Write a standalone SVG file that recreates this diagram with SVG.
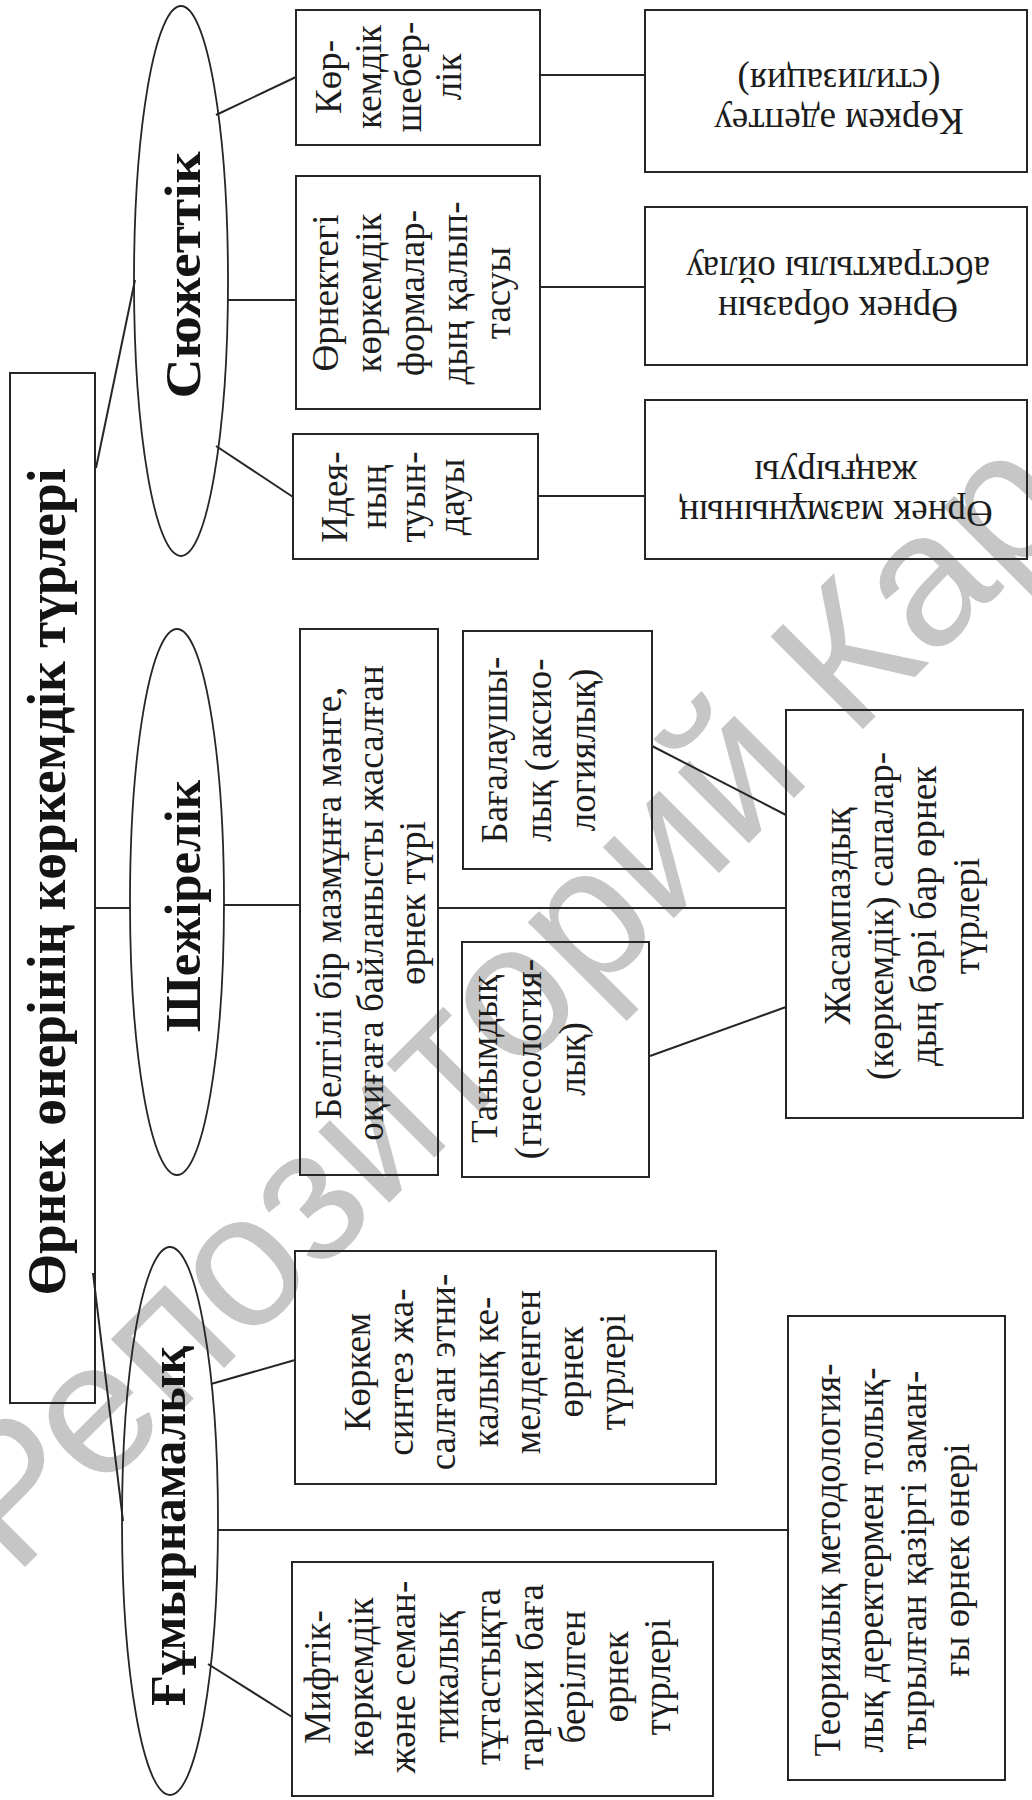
<svg xmlns="http://www.w3.org/2000/svg" width="1032" height="1800" viewBox="0 0 1032 1800">
<style>
.bg{fill:#ffffff}
.box{fill:none;stroke:#262626;stroke-width:2}
.ell{fill:none;stroke:#262626;stroke-width:1.8}
.ln{stroke:#262626;stroke-width:2;fill:none}
.t{font-family:"Liberation Serif","Times New Roman","DejaVu Serif",serif;font-size:37px;fill:#1c1c1c;text-anchor:middle}
.tb{font-family:"Liberation Serif","Times New Roman","DejaVu Serif",serif;font-weight:bold;fill:#141414;text-anchor:middle}
.wm{font-family:"Liberation Sans",Arial,"DejaVu Sans",sans-serif;font-size:190px;fill:#c6c6c6}
</style>
<rect class="bg" x="0" y="0" width="1032" height="1800"/>
<text class="wm" transform="translate(14,1578) rotate(-45)">Репозиторий Кар</text>

<g id="connectors">
<line class="ln" x1="96" y1="468" x2="135" y2="280"/>
<line class="ln" x1="96" y1="908" x2="130" y2="908"/>
<line class="ln" x1="93" y1="1273" x2="123" y2="1521"/>
<line class="ln" x1="216" y1="115" x2="296" y2="77"/>
<line class="ln" x1="228" y1="300" x2="296" y2="300"/>
<line class="ln" x1="216" y1="446" x2="293" y2="497"/>
<line class="ln" x1="540" y1="75" x2="645" y2="75"/>
<line class="ln" x1="540" y1="287" x2="645" y2="287"/>
<line class="ln" x1="538" y1="496" x2="645" y2="496"/>
<line class="ln" x1="224" y1="905" x2="300" y2="905"/>
<line class="ln" x1="438" y1="908" x2="786" y2="908"/>
<line class="ln" x1="652" y1="746" x2="786" y2="815"/>
<line class="ln" x1="650" y1="1056" x2="786" y2="1007"/>
<line class="ln" x1="211" y1="1384" x2="295" y2="1360"/>
<line class="ln" x1="218" y1="1530" x2="788" y2="1530"/>
<line class="ln" x1="208" y1="1664" x2="292" y2="1717"/>
</g>

<g id="title">
<rect class="box" x="10" y="373" width="85" height="1030"/>
<text class="tb" font-size="54" textLength="827" lengthAdjust="spacingAndGlyphs" transform="translate(65,882) rotate(-90)">Өрнек өнерінің көркемдік түрлері</text>
</g>

<g id="syuzhet">
<ellipse class="ell" cx="181" cy="281" rx="47" ry="275"/>
<text class="tb" font-size="50" textLength="247" lengthAdjust="spacingAndGlyphs" transform="translate(200,275) rotate(-90)">Сюжеттік</text>
</g>

<g id="shezhire">
<ellipse class="ell" cx="177" cy="902" rx="47" ry="273"/>
<text class="tb" font-size="50" textLength="252" lengthAdjust="spacingAndGlyphs" transform="translate(200,906) rotate(-90)">Шежірелік</text>
</g>

<g id="gumyr">
<ellipse class="ell" cx="170" cy="1521" rx="48" ry="274"/>
<text class="tb" font-size="50" textLength="360" lengthAdjust="spacingAndGlyphs" transform="translate(185,1526) rotate(-90)">Ғұмырнамалық</text>
</g>

<g id="n-sheberlik">
<rect class="box" x="296" y="10" width="244" height="135"/>
<text class="t" font-size="38" transform="translate(341,77) rotate(-90)"><tspan x="0" y="0">Көр-</tspan><tspan x="0" y="40">кемдік</tspan><tspan x="0" y="80">шебер-</tspan><tspan x="0" y="120">лік</tspan></text>
</g>

<g id="n-formalar">
<rect class="box" x="296" y="176" width="244" height="233"/>
<text class="t" font-size="40" transform="translate(338,293) rotate(-90)"><tspan x="0" y="0">Өрнектегі</tspan><tspan x="0" y="43">көркемдік</tspan><tspan x="0" y="86">формалар-</tspan><tspan x="0" y="129">дың қалып-</tspan><tspan x="0" y="172">тасуы</tspan></text>
</g>

<g id="n-ideya">
<rect class="box" x="293" y="434" width="245" height="125"/>
<text class="t" font-size="38" transform="translate(347,497) rotate(-90)"><tspan x="0" y="0">Идея-</tspan><tspan x="0" y="39">ның</tspan><tspan x="0" y="78">туын-</tspan><tspan x="0" y="117">дауы</tspan></text>
</g>

<g id="n-stilizaciya">
<rect class="box" x="645" y="10" width="382" height="162"/>
<text class="t" transform="translate(839,109) rotate(180)"><tspan x="0" y="0">Көркем әдептеу</tspan><tspan x="0" y="40">(стилизация)</tspan></text>
</g>

<g id="n-abstrakt">
<rect class="box" x="645" y="207" width="382" height="158"/>
<text class="t" transform="translate(838,297) rotate(180)"><tspan x="0" y="0">Өрнек образын</tspan><tspan x="0" y="40">абстрактылы ойлау</tspan></text>
</g>

<g id="n-mazmun">
<rect class="box" x="645" y="400" width="382" height="159"/>
<text class="t" transform="translate(836,501) rotate(180)"><tspan x="0" y="0">Өрнек мазмұнының</tspan><tspan x="0" y="40">жаңғыруы</tspan></text>
</g>

<g id="n-belgili">
<rect class="box" x="300" y="629" width="138" height="546"/>
<text class="t" transform="translate(341,903) rotate(-90)"><tspan x="0" y="0">Белгілі бір мазмұнға мәнге,</tspan><tspan x="0" y="42">оқиғаға байланысты жасалған</tspan><tspan x="0" y="84">өрнек түрі</tspan></text>
</g>

<g id="n-bagalaushy">
<rect class="box" x="463" y="631" width="189" height="238"/>
<text class="t" font-size="38" transform="translate(507,750) rotate(-90)"><tspan x="0" y="0">Бағалаушы-</tspan><tspan x="0" y="44">лық (аксио-</tspan><tspan x="0" y="88">логиялық)</tspan></text>
</g>

<g id="n-tanymdyk">
<rect class="box" x="462" y="942" width="187" height="235"/>
<text class="t" transform="translate(497,1059) rotate(-90)"><tspan x="0" y="0">Танымдық</tspan><tspan x="0" y="44">(гнесология-</tspan><tspan x="0" y="88">лық)</tspan></text>
</g>

<g id="n-zhasampaz">
<rect class="box" x="786" y="710" width="237" height="408"/>
<text class="t" transform="translate(850,916) rotate(-90)"><tspan x="0" y="0">Жасампаздық</tspan><tspan x="0" y="43">(көркемдік) сапалар-</tspan><tspan x="0" y="86">дың бәрі бар өрнек</tspan><tspan x="0" y="129">түрлері</tspan></text>
</g>

<g id="n-sintez">
<rect class="box" x="295" y="1251" width="421" height="233"/>
<text class="t" transform="translate(370,1372) rotate(-90)"><tspan x="0" y="0">Көркем</tspan><tspan x="0" y="42.5">синтез жа-</tspan><tspan x="0" y="85">салған этни-</tspan><tspan x="0" y="127.5">калық ке-</tspan><tspan x="0" y="170">мелденген</tspan><tspan x="0" y="212.5">өрнек</tspan><tspan x="0" y="255">түрлері</tspan></text>
</g>

<g id="n-teoriya">
<rect class="box" x="788" y="1316" width="217" height="464"/>
<text class="t" transform="translate(840,1560) rotate(-90)"><tspan x="0" y="0">Теориялық методология-</tspan><tspan x="0" y="43">лық деректермен толық-</tspan><tspan x="0" y="86">тырылған қазіргі заман-</tspan><tspan x="0" y="129">ғы өрнек өнері</tspan></text>
</g>

<g id="n-miftik">
<rect class="box" x="292" y="1562" width="421" height="234"/>
<text class="t" transform="translate(330,1677) rotate(-90)"><tspan x="0" y="0">Мифтік-</tspan><tspan x="0" y="42.5">көркемдік</tspan><tspan x="0" y="85">және семан-</tspan><tspan x="0" y="127.5">тикалық</tspan><tspan x="0" y="170">тұтастықта</tspan><tspan x="0" y="212.5">тарихи баға</tspan><tspan x="0" y="255">берілген</tspan><tspan x="0" y="297.5">өрнек</tspan><tspan x="0" y="340">түрлері</tspan></text>
</g>
</svg>
